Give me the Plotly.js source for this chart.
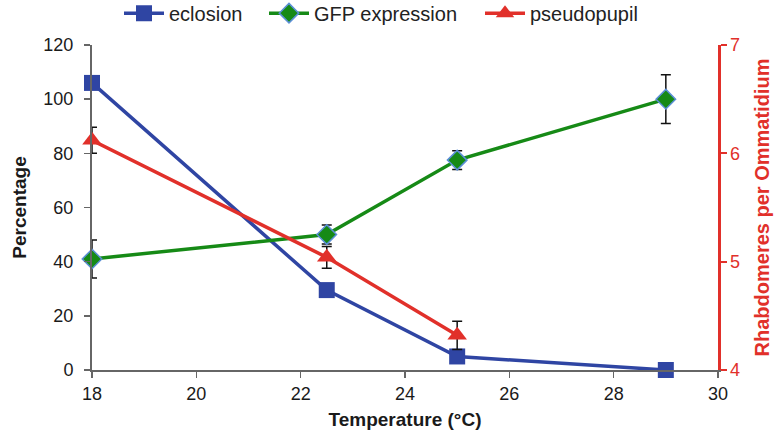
<!DOCTYPE html>
<html>
<head>
<meta charset="utf-8">
<script src="https://cdn.plot.ly/plotly-3.0.1.min.js"></script>
<style>html,body{margin:0;padding:0;background:#fff;}#chart{width:779px;height:440px;}</style>
</head>
<body>
<div id="chart"></div>
<script>
const temps = [18, 22.5, 25, 29];
const eclosion = [106, 29.5, 5, 0];
const gfpTemps = [18, 22.5, 25, 29];
const gfp = [41, 50, 77.5, 100];
const gfpErr = [7, 3.5, 3.5, 9];
const pseudoTemps = [18, 22.5, 25];
const pseudopupil = [6.12, 5.04, 4.32];
const pseudoErr = [0.12, 0.1, 0.13];
const xTicks = [18, 20, 22, 24, 26, 28, 30];
const yTicks = [0, 20, 40, 60, 80, 100, 120];
const y2Ticks = [4, 5, 6, 7];

const BLUE = '#2f45a3', GREEN = '#168a16', RED = '#e1302a', GRAY = '#666666';
const FONT = 'Liberation Sans, Arial, sans-serif';

const errStyle = {type: 'data', visible: true, color: '#111', thickness: 1.5, width: 5};

const traces = [
  {x: temps, y: eclosion, name: 'eclosion', mode: 'lines+markers', cliponaxis: false, legend: 'legend',
   line: {color: BLUE, width: 3.5}, marker: {symbol: 'square', size: 16, color: BLUE}},
  {x: gfpTemps, y: gfp, name: 'GFP expression', mode: 'lines+markers', cliponaxis: false, legend: 'legend2',
   line: {color: GREEN, width: 3.5},
   marker: {symbol: 'diamond', size: 15, color: GREEN, line: {color: '#5b8fd6', width: 1.5}},
   error_y: Object.assign({array: gfpErr}, errStyle)},
  {x: pseudoTemps, y: pseudopupil, name: 'pseudopupil', yaxis: 'y2', mode: 'lines+markers', cliponaxis: false, legend: 'legend3',
   line: {color: RED, width: 3.5}, marker: {symbol: 'triangle-up', size: 17, color: RED},
   error_y: Object.assign({array: pseudoErr}, errStyle)}
];

function leg(xpx) {
  return {orientation: 'h', x: (xpx - 92) / 626, xanchor: 'left', y: 1.098, yanchor: 'middle',
          font: {size: 20, color: '#222'}, itemwidth: 40, bgcolor: 'rgba(0,0,0,0)'};
}

const layout = {
  width: 779, height: 440,
  margin: {l: 92, r: 61, t: 45, b: 70, autoexpand: false},
  paper_bgcolor: '#fff', plot_bgcolor: '#fff',
  font: {family: FONT, size: 18, color: '#1a1a1a'},
  showlegend: true,
  legend: leg(119),
  legend2: leg(264),
  legend3: leg(480),
  xaxis: {range: [18, 30], tickvals: xTicks, ticktext: xTicks.map(String),
          showgrid: false, zeroline: false, showline: true, linecolor: GRAY, linewidth: 2,
          ticks: 'outside', ticklen: 6, tickcolor: GRAY, tickwidth: 1.5,
          tickfont: {size: 18, color: '#1a1a1a'},
          title: {text: '<b>Temperature (°C)</b>', font: {size: 19, color: '#1a1a1a'}, standoff: 10}},
  yaxis: {range: [0, 120], tickvals: yTicks, ticktext: yTicks.map(String),
          showgrid: false, zeroline: false, showline: true, linecolor: GRAY, linewidth: 2,
          ticks: 'outside', ticklen: 6, tickcolor: GRAY, tickwidth: 1.5, ticklabelstandoff: 7,
          tickfont: {size: 18, color: '#1a1a1a'},
          title: {text: '<b>Percentage</b>', font: {size: 19, color: '#1a1a1a'}, standoff: 12}},
  yaxis2: {range: [4, 7], tickvals: y2Ticks, ticktext: y2Ticks.map(String), overlaying: 'y', side: 'right',
           showgrid: false, zeroline: false, showline: true, linecolor: RED, linewidth: 2.5,
           ticks: 'outside', ticklen: 6, tickcolor: RED, tickwidth: 2,
           tickfont: {size: 18, color: RED},
           title: {text: '<b>Rhabdomeres per Ommatidium</b>', font: {size: 20, color: RED}, standoff: 16}}
};

Plotly.newPlot('chart', traces, layout, {displayModeBar: false, staticPlot: true});
</script>
</body>
</html>
